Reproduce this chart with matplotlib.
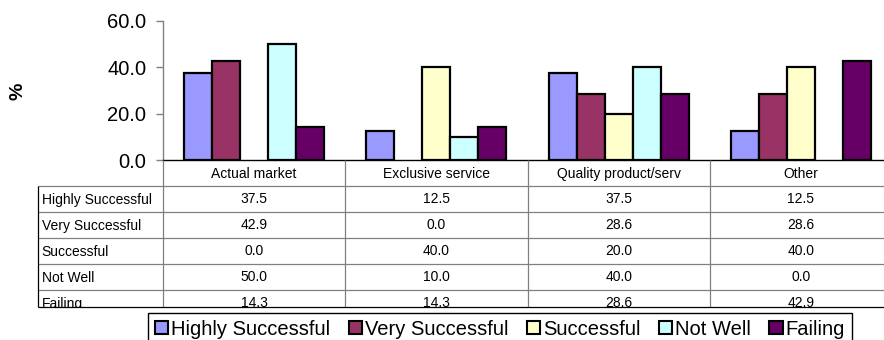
import matplotlib
matplotlib.use('Agg')
import matplotlib.pyplot as plt
from matplotlib.patches import Patch

plt.rcParams['font.family'] = ['Liberation Sans', 'DejaVu Sans']

# Data
categories = ['Actual market', 'Exclusive service', 'Quality product/serv', 'Other']
series_names = ['Highly Successful', 'Very Successful', 'Successful', 'Not Well', 'Failing']
highly_successful = [37.5, 12.5, 37.5, 12.5]
very_successful = [42.9, 0.0, 28.6, 28.6]
successful = [0.0, 40.0, 20.0, 40.0]
not_well = [50.0, 10.0, 40.0, 0.0]
failing = [14.3, 14.3, 28.6, 42.9]
series = [highly_successful, very_successful, successful, not_well, failing]
colors = ['#9999FF', '#993366', '#FFFFCC', '#CCFFFF', '#660066']
yticks = [0, 20, 40, 60]

W, H = 884, 340
fig = plt.figure(figsize=(W / 100, H / 100), dpi=100)


def box(left, top, right, bottom):
    # pixel box -> figure fraction rect
    return [left / W, 1 - bottom / H, (right - left) / W, (bottom - top) / H]


# Bar chart
ax = fig.add_axes(box(163, 21, 892, 160))
bw = 1 / 6.5
for k, (vals, col) in enumerate(zip(series, colors)):
    xs = [i + (k - 2) * bw for i in range(len(categories))]
    lws = [1.6 if v else 0 for v in vals]
    ax.bar(xs, vals, width=bw, color=col, edgecolor='black', linewidth=lws, zorder=3)

ax.set_xlim(-0.5, len(categories) - 0.5)
ax.set_ylim(0, 60)
ax.set_yticks(yticks)
ax.set_yticklabels([f'{v:.1f}' for v in yticks], fontsize=14.5)
ax.set_xticks([])
for s in ['top', 'right']:
    ax.spines[s].set_visible(False)
ax.spines['left'].set_color('#808080')
ax.spines['left'].set_linewidth(1)
ax.spines['bottom'].set_color('black')
ax.spines['bottom'].set_linewidth(1)
ax.tick_params(axis='y', direction='out', length=5, width=1, color='#808080', pad=7)

fig.text(18 / W, 1 - 91 / H, '%', rotation=90, ha='center', va='center',
         fontsize=14, fontweight='bold')

# Data table under the chart
rh = 26
gw = (892 - 163) / len(categories)
tab_bottom = 306.7
tab = fig.add_axes(box(38, 160, 892, tab_bottom))
x_left = -0.5 - (163 - 38) / gw
x_right = len(categories) - 0.5
y_bot = (tab_bottom - 160) / rh
tab.set_xlim(x_left, x_right)
tab.set_ylim(y_bot, 0)
tab.axis('off')

grid = '#808080'
tab.hlines(range(1, 6), x_left, x_right, color=grid, lw=0.9, clip_on=False)
tab.vlines([-0.5, 0.5, 1.5, 2.5], 0, y_bot, color=grid, lw=0.9, clip_on=False)
tab.vlines([x_left], 1, y_bot, color='black', lw=0.9, clip_on=False)
tab.hlines([y_bot], x_left, x_right, color='black', lw=0.9, clip_on=False)

for i, cat in enumerate(categories):
    tab.text(i, 18 / rh, cat, ha='center', va='baseline', fontsize=10)

for r, (name, vals) in enumerate(zip(series_names, series)):
    yb = r + 1 + 17 / rh
    tab.text(x_left + 3.5 / gw, yb + 1 / rh, name, ha='left', va='baseline',
             fontsize=10, clip_on=True)
    for i, v in enumerate(vals):
        tab.text(i, yb, f'{v:.1f}', ha='center', va='baseline', fontsize=10,
                 clip_on=True)

# Legend, stretched across its box
handles = [Patch(facecolor=c, edgecolor='black', linewidth=1.5) for c in colors]
leg = fig.legend(handles, series_names, loc='upper left',
                 bbox_to_anchor=(148 / W, 1 - 312.5 / H, (852 - 148) / W, 0),
                 mode='expand', ncol=5, fontsize=14.5,
                 frameon=True, fancybox=False, edgecolor='black', framealpha=1,
                 borderaxespad=0, borderpad=0.35, handlelength=0.65,
                 handleheight=0.65, handletextpad=0.15, columnspacing=0.7)
leg.get_frame().set_linewidth(1)

fig.savefig('out.png', dpi=100)
